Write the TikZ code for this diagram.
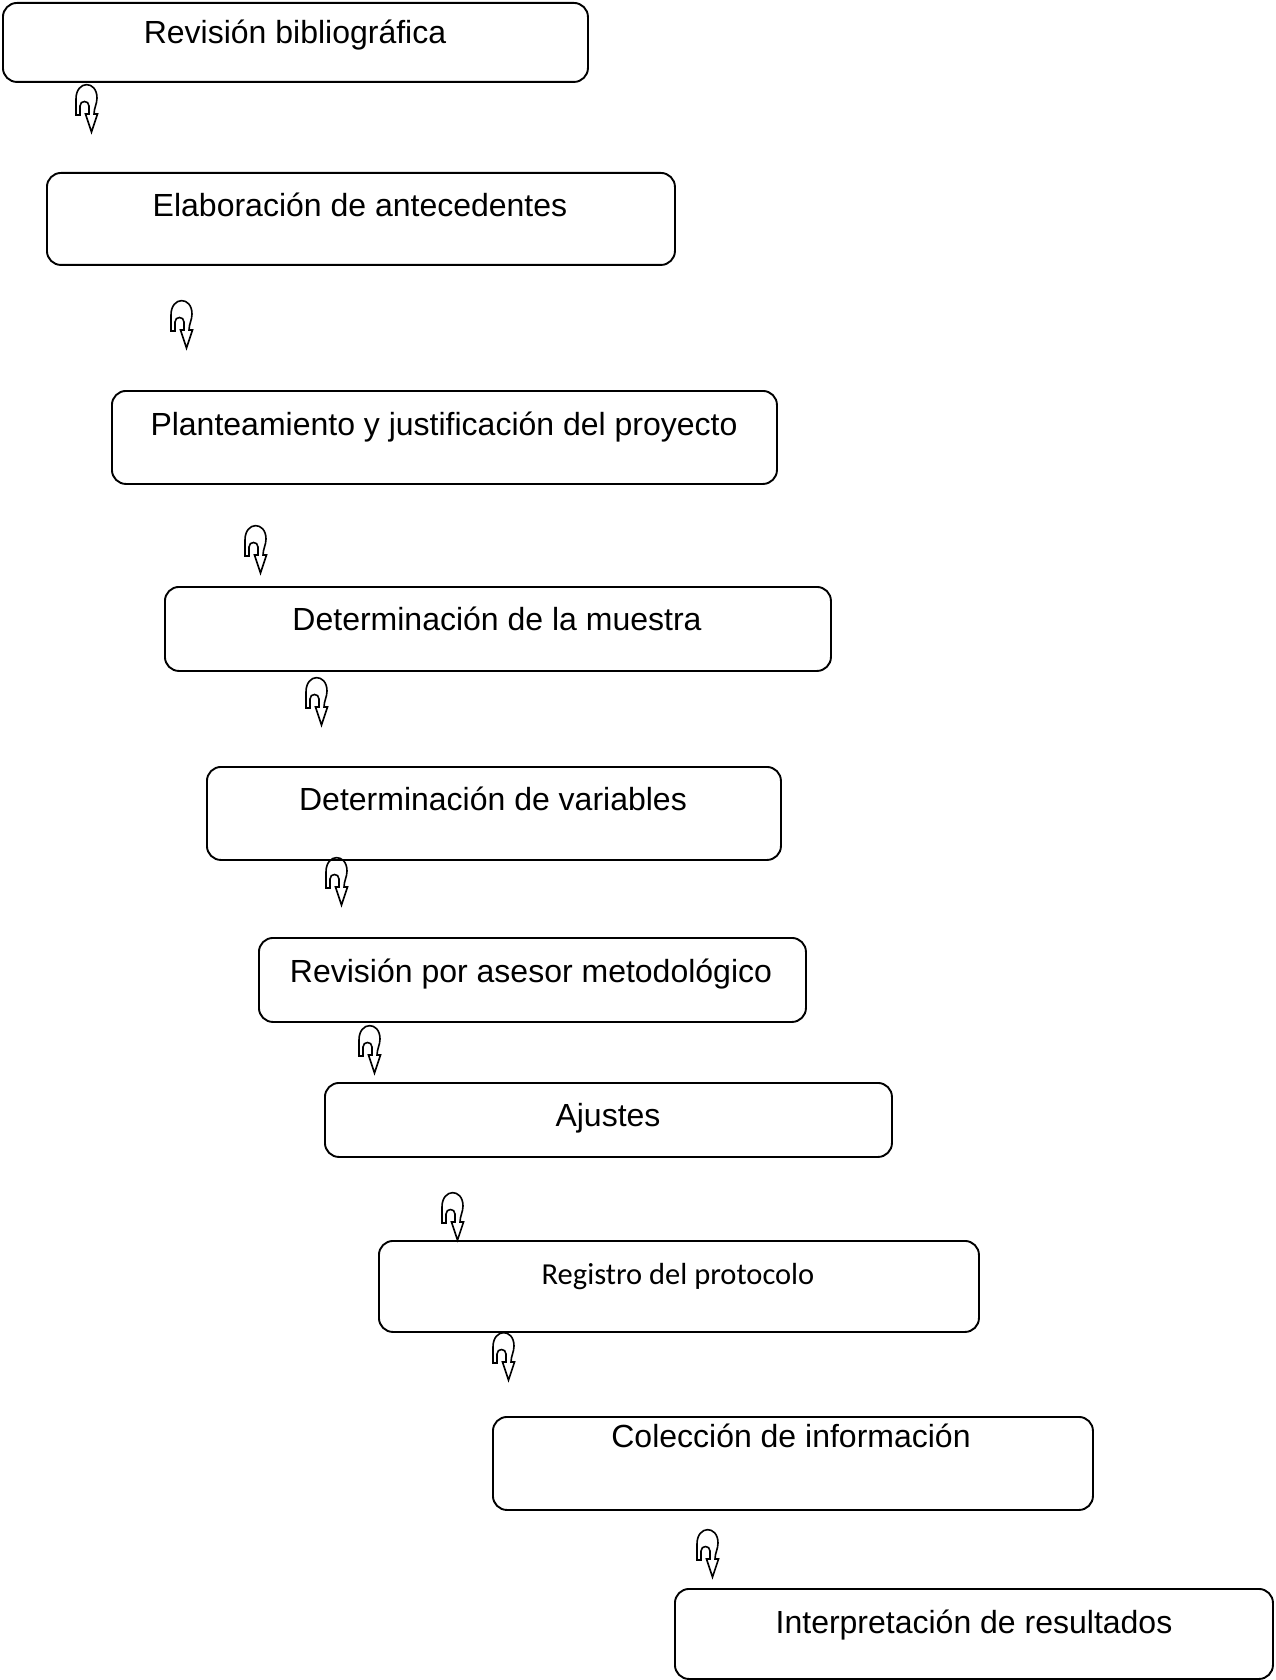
\documentclass[tikz,border=0pt]{standalone}
\usepackage{fontspec}
\setmainfont{Liberation Sans}
\newfontfamily\calib{Carlito}
\begin{document}
\begin{tikzpicture}[x=1pt,y=1pt,
  box/.style={draw, line width=1.9pt, rounded corners=14pt, anchor=north west, inner sep=0pt},
  lbl/.style={anchor=base, inner sep=0pt, font=\fontsize{32}{38}\selectfont},
  lblc/.style={anchor=base, inner sep=0pt, font=\calib\fontsize{30.5}{36}\selectfont},
  uturn/.pic={\draw[line width=1.6pt, line join=miter] (0,-31) -- (0,-15)
     .. controls (0,4) and (21,4) .. (21,-14)
     .. controls (21,-20) and (18,-24) .. (18,-30) -- (21.5,-30) -- (15.5,-48)
     -- (9.5,-30) -- (13,-30) -- (13,-22)
     .. controls (13,-16) and (4,-16) .. (4,-22) -- (4,-31) -- cycle;}]
\useasboundingbox (0,0) rectangle (1275,-1680);
\fill[white] (0,0) rectangle (1275,-1680);

\node[box, minimum width=585pt, minimum height=79pt] (b1) at (2,-2) {};
\node[box, minimum width=628pt, minimum height=92pt] (b2) at (46,-172) {};
\node[box, minimum width=665pt, minimum height=93pt] (b3) at (111,-390) {};
\node[box, minimum width=666pt, minimum height=84pt] (b4) at (164,-586) {};
\node[box, minimum width=574pt, minimum height=93pt] (b5) at (206,-766) {};
\node[box, minimum width=547pt, minimum height=84pt] (b6) at (258,-937) {};
\node[box, minimum width=567pt, minimum height=74pt] (b7) at (324,-1082) {};
\node[box, minimum width=600pt, minimum height=91pt] (b8) at (378,-1240) {};
\node[box, minimum width=600pt, minimum height=93pt] (b9) at (492,-1416) {};
\node[box, minimum width=598pt, minimum height=90pt] (b10) at (674,-1588) {};

\node[lbl] (t1) at (295,-44) {Revisión bibliográfica};
\node[lbl] (t2) at (360,-217) {Elaboración de antecedentes};
\node[lbl] (t3) at (444,-435) {Planteamiento y justificación del proyecto};
\node[lbl] (t4) at (497,-630) {Determinación de la muestra};
\node[lbl] (t5) at (493,-810) {Determinación de variables};
\node[lbl] (t6) at (531,-982) {Revisión por asesor metodológico};
\node[lbl] (t7) at (608,-1126) {Ajustes};
\node[lblc] (t8) at (678,-1284) {Registro del protocolo};
\node[lbl] (t9) at (791,-1447) {Colección de información};
\node[lbl] (t10) at (974,-1633) {Interpretación de resultados};

\pic (a1) at (76,-84) {uturn};
\pic (a2) at (171,-300) {uturn};
\pic (a3) at (245,-525) {uturn};
\pic (a4) at (306,-677) {uturn};
\pic (a5) at (326,-857) {uturn};
\pic (a6) at (359,-1025) {uturn};
\pic (a7) at (442,-1192) {uturn};
\pic (a8) at (493,-1332) {uturn};
\pic (a9) at (697,-1529) {uturn};
\end{tikzpicture}
\end{document}
